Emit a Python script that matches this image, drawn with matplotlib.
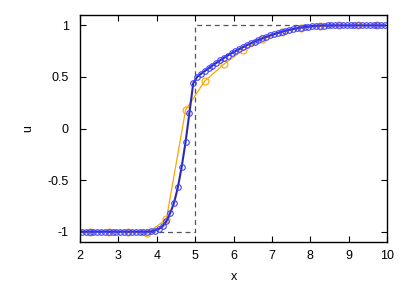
import numpy as np
import matplotlib
matplotlib.use("Agg")
from matplotlib import pyplot as plt

plt.rcParams['font.family'] = ['Liberation Sans', 'DejaVu Sans']
plt.rcParams['axes.unicode_minus'] = False

# fine solution, cell centres 2.05 .. 9.95
x_fine = np.round(np.arange(80) * 0.1 + 2.05, 2)
u_fine = [-1.0] * 18 + [
    -0.998, -0.99, -0.975, -0.95, -0.90, -0.82, -0.72, -0.57, -0.37, -0.13, 0.15, 0.44,
    0.50, 0.529, 0.557, 0.584, 0.611, 0.636, 0.661, 0.685, 0.708, 0.730,
    0.751, 0.771, 0.790, 0.809, 0.827, 0.844, 0.860, 0.875, 0.889, 0.903,
    0.915, 0.927, 0.937, 0.948, 0.957, 0.965, 0.972, 0.979, 0.984, 0.989,
    0.993, 0.996, 0.998, 0.999] + [1.0] * 16

# coarse solution, cell centres 2.25 .. 9.75
x_coarse = np.round(np.arange(16) * 0.5 + 2.25, 2)
u_coarse = [-1.0, -1.0, -1.0, -1.015, -0.88, 0.18, 0.46, 0.625, 0.76, 0.865,
            0.935, 0.975, 0.99, 1.0, 1.0, 1.0]

# initial step
x_init = [2, 5, 5, 10]
u_init = [-1, -1, 1, 1]

fig = plt.figure(figsize=(4.07, 2.85), dpi=100)
ax = fig.add_axes([0.1966, 0.151, 0.7544, 0.796])

ax.plot(x_init, u_init, color="#555555", lw=0.9, ls=(0, (4, 3)))
ax.plot(x_coarse, u_coarse, color="#ffa500", lw=0.9, marker="o", ms=5,
        mfc="none", mec="#ffa500", mew=0.8)
ax.plot(x_fine, u_fine, color="#2a2ab0", lw=1.5)
ax.plot(x_fine, u_fine, ls="none", marker="o", ms=4.0, mfc="none",
        mec="#4040ff", mew=0.8)

ax.set_xlim(2, 10)
ax.set_ylim(-1.1, 1.1)
ax.set_xticks(range(2, 11))
ax.set_yticks([-1, -0.5, 0, 0.5, 1])
ax.set_yticklabels(["-1", "-0.5", "0", "0.5", "1"])
ax.tick_params(direction="in", length=4, width=0.8, top=True, right=True,
               labelsize=9, pad=6)
ax.tick_params(axis="y", pad=8)
for s in ax.spines.values():
    s.set_linewidth(1.0)
ax.set_xlabel("x", fontsize=9, labelpad=6)
ax.set_ylabel("u", fontsize=9, labelpad=10)

fig.savefig("out.png", dpi=100)
